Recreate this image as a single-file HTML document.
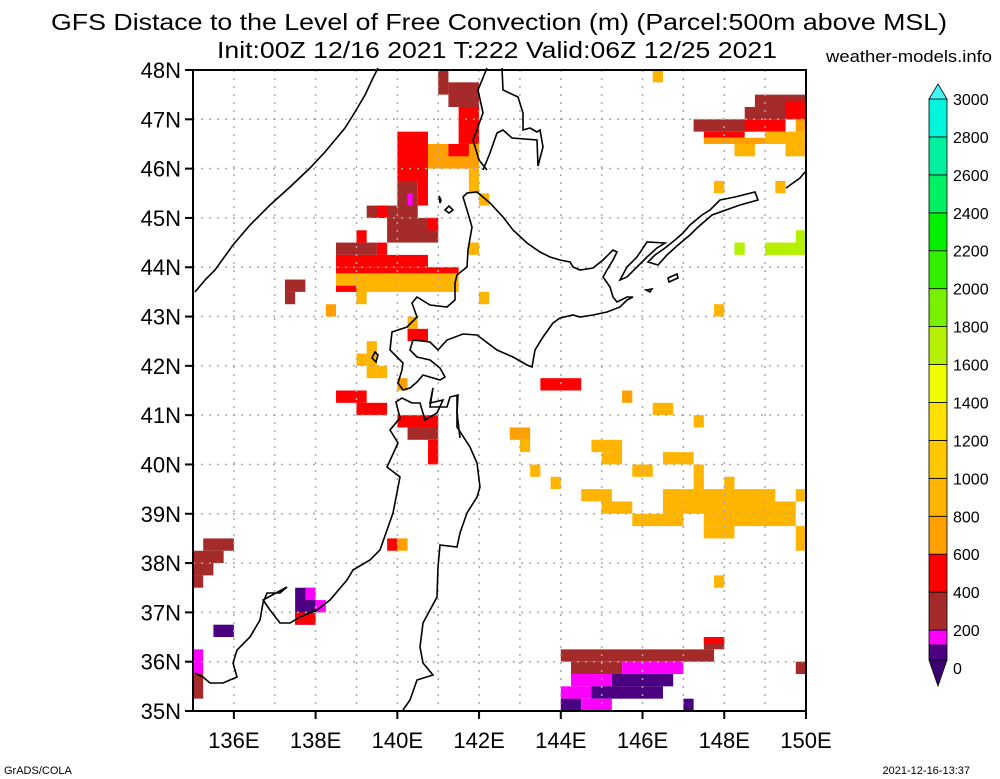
<!DOCTYPE html>
<html><head><meta charset="utf-8"><style>
html,body{margin:0;padding:0;background:#fff;}
svg{display:block;font-family:"Liberation Sans",sans-serif;}
</style></head><body>
<svg id="chart" width="1000" height="779" viewBox="0 0 1000 779">
<text x="499" y="30" font-size="23" text-anchor="middle" textLength="896" lengthAdjust="spacingAndGlyphs">GFS Distace to the Level of Free Convection (m) (Parcel:500m above MSL)</text>
<text x="497" y="58" font-size="23" text-anchor="middle" textLength="560" lengthAdjust="spacingAndGlyphs">Init:00Z 12/16 2021 T:222 Valid:06Z 12/25 2021</text>
<text x="992" y="62" font-size="17" text-anchor="end" textLength="166" lengthAdjust="spacingAndGlyphs">weather-models.info</text>
<text x="4" y="774" font-size="11">GrADS/COLA</text>
<text x="970" y="774" font-size="11" text-anchor="end">2021-12-16-13:37</text>
<g id="cells"></g>
<g id="grid"></g>
<g id="coast" fill="none" stroke="#000" stroke-width="1.6">
<path d="M195,292 L205,280 L215,270 L233,245 L250,225 L270,205 L290,187 L310,168 L325,152 L335,140 L345,128 L355,112 L365,95 L372,80 L378,68"/>
<path d="M487,68 L478,90 L483,113 L473,140 L479,160 L487,170 M502,68 L503,90 L518,97 L523,113 L523,130 L530,128 L537,132 L540,130 L543,147 L538,166 L537,140 L512,138 L503,130 L497,133 L490,153 L483,170"/>
<path d="M477,192 L490,203 L503,217 L513,230 L527,243 L540,252 L550,257 L560,260 L570,262 L573,267 L580,270 L593,268 L603,260 L613,250 L617,252 L613,260 L607,270 L603,277 L610,287 L613,297 L617,302 L627,297 L633,297 L627,300 L620,307 L607,312 L593,315 L580,317 L573,315 L560,318 L553,323 L543,337 L535,350 L532,367 L527,365 L513,357 L497,350 L477,335 L463,334 L447,340 L438,350 L430,342 L413,340 L410,350 L417,357 L430,360 L440,368 L445,377 L440,380 L423,375 L417,382 L410,388 L403,390 L398,383 L402,370 L403,363 L397,357 L390,350 L392,332 L407,327 L417,317 L412,303 L417,297 L430,305 L447,307 L455,300 L455,283 L457,275 L467,267 L468,250 L472,227 L467,210 L463,197 L467,193 Z"/>
<path d="M620,280 L627,267 L637,257 L647,242 L665,243 L657,248 L647,257 L637,267 L627,277 Z M668,278 L677,274 L678,278 L669,282 Z M646,290 L652,289 L650,292 Z"/>
<path d="M697,228 L712,215 L740,205 L758,200 L755,192 L735,197 L720,200 L710,210 L702,215 L690,225 L683,233 L675,240 L665,248 L655,255 L648,262 L658,265 L667,255 L678,245 L690,235 Z"/>
<path d="M433,388 L430,407 L447,407 L450,397 L458,395 L457,413 L460,438 M412,403 L402,398 L396,402 L400,418 L390,430 L398,443 L387,467 L400,477 L393,513 L387,530 L380,550 L370,560 L353,570 L347,580 L330,600 L317,610 L300,617 L290,623 L280,623 L270,610 L263,600 L287,587 L280,593 L267,593 L263,603 L260,620 L250,637 L237,650 L233,663 L237,677 L223,683 L210,683 L203,677 L195,673"/>
<path d="M412,403 L420,403 L425,420 L437,413 L443,400 L430,403 L433,388 M457,395 L457,427 L470,447 L477,463 L480,487 L477,497 L467,513 L460,533 L457,547 L440,545 L438,567 L437,597 L423,623 L420,647 L423,663 L433,675 L417,680 L410,700 L403,710"/>
<path d="M786,188 L800,178 L805,172 M375,352 L378,355 L376,362 L372,358 Z M445,210 L449,206 L453,210 L449,213 Z M439,196 L441,200 L440,203 Z"/>
</g>
<rect x="193" y="70" width="613" height="641" fill="none" stroke="#000" stroke-width="2"/>
<g id="axes"></g>
<g id="colorbar"></g>
</svg>
<script>
// Cells: [lon0, lon1, lat0, lat1, value]
const cellLon0 = [141,141.25,141.5,140,140.75,141.25,141.75,142,140,140.25,140.5,139.25,139.5,139.75,140.75,139,138.5,139.5,138.5,138.5,138.5,138.5,139,137.25,137.25,138.25,142,141.75,140.25,140.25,139.25,139,139.25,139.5,140,138.5,139,143.5,140,140.25,140.75,139.75,140,135.25,135,135,135,137.5,137.75,138,137.5,135.5,135,135,146.25,147.25,148.5,148.75,147.5,148.5,149.5,147.5,149,149.75,148.25,149.5,147.75,149.25,147.75,148.25,149,149.75,145.5,146.25,147.25,142.75,143,143.25,143.75,144.75,145,146.5,145.75,147.25,148,144.5,145,145.75,146.5,147.5,147.5,149.75,149.75,147.75,147.5,147.5,144,144.25,145.5,144.25,145.25,144,144.75,144,144.5,147,149.75];
const cellLon1 = [141.25,142,142,140.75,142,141.75,142,142.25,140.5,140.375,140.75,140,139.75,141,141,139.25,139.5,139.75,140.75,141.5,141.5,139,139.25,137.75,137.5,138.5,142.25,142,140.5,140.75,139.5,139.25,139.5,139.75,140.25,139.25,139.75,144.5,141,141,141,140,140.25,136,135.75,135.5,135.25,138,138,138.25,138,136,135.25,135.25,146.5,148.75,150,150,148.5,149.5,150,150,150,150,148.75,150,148,149.5,148,148.5,150,150,145.75,146.75,147.5,143.25,143.25,143.5,144,145.5,145.5,147.25,146.25,147.5,148.25,145.25,145.75,147,149.25,149.75,148.25,150,150,148,148,148,147.75,145.5,147,145.25,146.75,144.75,146.5,144.5,145.25,147.25,150];
const cellLat0 = [47.5,47.25,46.5,45.75,46,46.25,45.5,45.25,45,45.25,45.25,45,45,44.5,44.75,44.5,44.25,44.25,44,43.875,43.5,43.5,43.25,43.5,43.25,43,43.25,44.25,42.75,42.5,42.25,42,41.75,41.75,41.5,41.25,41,41.5,40.75,40.5,40,38.25,38.25,38.25,38,37.75,37.5,36.75,37.25,37,36.75,36.5,35.75,35.25,47.75,46.75,47,47.25,46.625,46.75,47,46.5,46.5,46.75,46.25,46.25,45.5,45.5,43,44.25,44.25,44.5,41.25,41,40.75,40.5,40.25,39.75,39.5,40.25,40,40,39.75,39.5,39.5,39.25,39,38.75,39,38.75,38.5,39.25,38.25,37.5,36.25,36.375,36,35.75,35.75,35.5,35.5,35.25,35.25,35,35,35,35.75];
const cellLat1 = [48,47.75,47.25,46.75,46.5,46.5,46,45.5,45.75,45.5,45.75,45.25,45.25,45,45,44.75,44.5,44.5,44.25,44,43.875,43.625,43.5,43.75,43.5,43.25,43.5,44.5,43,42.75,42.5,42.25,42.25,42,41.75,41.5,41.25,41.75,41,40.75,40.5,38.5,38.5,38.5,38.25,38,37.75,37.5,37.5,37.25,37,36.75,36.25,35.75,48,47,47.25,47.5,46.75,47,47.375,46.625,46.75,47,46.5,46.5,45.75,45.75,43.25,44.5,44.5,44.75,41.5,41.25,41,40.75,40.5,40,39.75,40.5,40.25,40.25,40,40,39.75,39.5,39.25,39,39.5,39.25,38.75,39.5,38.75,37.75,36.5,36.5,36.25,36,36,35.75,35.75,35.5,35.5,35.25,35.25,35.25,36];
const cellVal = [300,300,500,500,700,500,900,900,300,150,500,300,500,300,500,500,300,500,500,500,900,500,900,300,300,700,900,900,900,500,900,900,900,900,700,500,500,500,500,300,500,500,700,300,300,300,300,50,150,150,500,50,150,300,900,300,300,300,500,500,500,700,900,700,900,900,900,900,900,1700,1700,1700,700,900,900,700,900,900,900,900,900,900,900,900,900,900,900,900,900,900,900,900,900,900,300,500,300,300,150,150,50,150,50,50,150,50,300];
// Colorbar
const cbLevels = [0,200,400,600,800,1000,1200,1400,1600,1800,2000,2200,2400,2600,2800,3000];
const cbColors = ["#4b0082","#ff00ff","#a52a2a","#ff0000","#ffa000","#ffb400","#ffc800","#ffe000","#f0ff00","#b4f000","#78f000","#32f000","#00f000","#00f064","#00f0a0","#00f5dc"];
// Axes
const lonTicks = [136,138,140,142,144,146,148,150];
const latTicks = [35,36,37,38,39,40,41,42,43,44,45,46,47,48];
const lonGrid = [136,137,138,139,140,141,142,143,144,145,146,147,148,149];
const latGrid = [36,37,38,39,40,41,42,43,44,45,46,47];

const NS="http://www.w3.org/2000/svg";
const X0=193,X1=806,Y0=711,Y1=70;
function xs(lon){return X0+(lon-135)/(150-135)*(X1-X0);}
function ys(lat){return Y0-(lat-35)/(48-35)*(Y0-Y1);}
function binIndex(v){if(v<100)return 0;if(v<200)return 1;let i=Math.floor(v/200)+1;return Math.min(i,15);}
function colorFor(v){return cbColors[binIndex(v)];}
function mk(tag,attrs,parent){const e=document.createElementNS(NS,tag);for(const k in attrs)e.setAttribute(k,attrs[k]);parent.appendChild(e);return e;}

const gc=document.getElementById('cells');
for(let i=0;i<cellVal.length;i++){
  const x=xs(cellLon0[i]),x2=xs(cellLon1[i]),y=ys(cellLat1[i]),y2=ys(cellLat0[i]);
  const r=mk('rect',{x:x,y:y,width:x2-x,height:y2-y,fill:colorFor(cellVal[i])},gc);
  
  
}
const gg=document.getElementById('grid');
lonGrid.forEach(l=>{const ln=mk('line',{x1:xs(l),x2:xs(l),y1:Y1,y2:Y0,stroke:'#aaa','stroke-width':1.5,'stroke-dasharray':'2,6'},gg);
  
  });
latGrid.forEach(l=>{const ln=mk('line',{x1:X0,x2:X1,y1:ys(l),y2:ys(l),stroke:'#aaa','stroke-width':1.5,'stroke-dasharray':'2,6'},gg);
  
  });
const ga=document.getElementById('axes');
lonTicks.forEach(l=>{const x=xs(l);
  const t=mk('line',{x1:x,x2:x,y1:Y0,y2:Y0+8,stroke:'#000','stroke-width':2},ga);
  
  
  const tx=mk('text',{x:x,y:748,'font-size':22,'text-anchor':'middle'},ga);tx.textContent=l+'E';
  
  });
latTicks.forEach(l=>{const y=ys(l);
  const t=mk('line',{x1:X0-8,x2:X0,y1:y,y2:y,stroke:'#000','stroke-width':2},ga);
  
  
  const tx=mk('text',{x:181,y:y+8,'font-size':22,'text-anchor':'end'},ga);tx.textContent=l+'N';
  
  });
const gb=document.getElementById('colorbar');
const CBX=929,CBW=18,LB=668,LT=99,step=(LB-LT)/15;
function cy(v){return LB-v/200*step;}
const CBB=cy(0)-8;
const edges=[0,100,200,400,600,800,1000,1200,1400,1600,1800,2000,2200,2400,2600,2800,3000];
for(let i=0;i<cbColors.length;i++){
  let yb=cy(edges[i]),yt=cy(edges[i+1]);
  if(i===0)yb=CBB;
  if(i===0||i===1){const mid=(CBB+cy(200))/2; if(i===0){yt=mid;}else{yb=mid;}}
  const r=mk('rect',{x:CBX,y:yt,width:CBW,height:yb-yt,fill:cbColors[i],stroke:'#000','stroke-width':0.8},gb);
  
  
}
const CBT=cy(3000);
const tt=mk('polygon',{points:`${CBX},${CBT} ${CBX+CBW},${CBT} ${CBX+CBW/2},${CBT-15}`,fill:'#40f8f8',stroke:'#000','stroke-width':0.8},gb);


const bt=mk('polygon',{points:`${CBX},${CBB} ${CBX+CBW},${CBB} ${CBX+CBW/2},${CBB+26}`,fill:'#3c0070',stroke:'#000','stroke-width':0.8},gb);


cbLevels.forEach(v=>{const y=cy(v);
  const tx=mk('text',{x:953,y:y+6,'font-size':16},gb);tx.textContent=v;
  
  });
</script>
</body></html>
